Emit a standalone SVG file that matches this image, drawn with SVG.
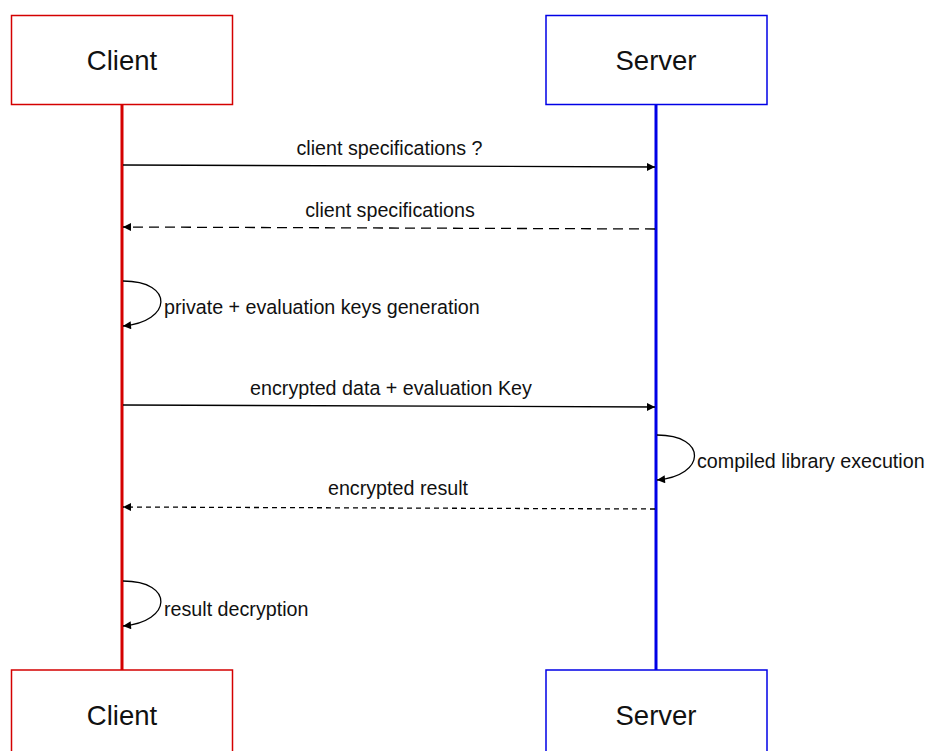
<svg xmlns="http://www.w3.org/2000/svg" width="927" height="751" viewBox="0 0 927 751">
  <style>
    .lbl { font-family: "Liberation Sans", Arial, sans-serif; font-size: 19.7px; fill: #111; }
    .title { font-family: "Liberation Sans", Arial, sans-serif; font-size: 27.5px; fill: #111; text-anchor: middle; }
    .msg { fill: none; stroke: #000; stroke-width: 1.3; }
    .dash1 { stroke-dasharray: 10 6; }
    .dash2 { stroke-dasharray: 5 4; }
  </style>
  <defs>
    <marker id="arrow" viewBox="0 0 10 10" refX="10" refY="5" markerWidth="10" markerHeight="8" markerUnits="userSpaceOnUse" orient="auto">
      <path d="M0,0 L10,5 L0,10 z" fill="#000"/>
    </marker>
  </defs>
  <rect width="927" height="751" fill="#fff"/>

  <!-- lifelines -->
  <g id="lifelines">
    <line x1="122" y1="104" x2="122" y2="670" stroke="#d40000" stroke-width="3"/>
    <line x1="656" y1="104" x2="656" y2="670" stroke="#0000e6" stroke-width="3"/>
  </g>

  <g id="client-top">
    <rect x="11.5" y="15.5" width="221" height="89" fill="#fff" stroke="#d40000" stroke-width="1.5"/>
    <text class="title" x="122" y="70">Client</text>
  </g>
  <g id="server-top">
    <rect x="546" y="15.5" width="221" height="89" fill="#fff" stroke="#0000e6" stroke-width="1.5"/>
    <text class="title" x="656" y="70">Server</text>
  </g>
  <g id="client-bottom">
    <rect x="11.5" y="670" width="221" height="89" fill="#fff" stroke="#d40000" stroke-width="1.5"/>
    <text class="title" x="122" y="725">Client</text>
  </g>
  <g id="server-bottom">
    <rect x="546" y="670" width="221" height="89" fill="#fff" stroke="#0000e6" stroke-width="1.5"/>
    <text class="title" x="656" y="725">Server</text>
  </g>

  <!-- messages -->
  <g id="connectors">
    <line class="msg" x1="123" y1="165" x2="655" y2="167" marker-end="url(#arrow)"/>
    <line class="msg dash1" x1="655" y1="229" x2="123" y2="227" marker-end="url(#arrow)"/>
    <path class="msg" d="M123,281 C175,281 172,322 123,326" marker-end="url(#arrow)"/>
    <line class="msg" x1="123" y1="405" x2="655" y2="407" marker-end="url(#arrow)"/>
    <path class="msg" d="M657,435 C708,435 706,476 657,480" marker-end="url(#arrow)"/>
    <line class="msg dash2" x1="655" y1="509" x2="123" y2="507" marker-end="url(#arrow)"/>
    <path class="msg" d="M123,581 C175,581 172,622 123,626" marker-end="url(#arrow)"/>
  </g>

  <g id="labels">
    <text class="lbl" x="389.5" y="155" text-anchor="middle">client specifications ?</text>
    <text class="lbl" x="390" y="217" text-anchor="middle">client specifications</text>
    <text class="lbl" x="164" y="314">private + evaluation keys generation</text>
    <text class="lbl" x="391" y="395" text-anchor="middle">encrypted data + evaluation Key</text>
    <text class="lbl" x="697" y="468">compiled library execution</text>
    <text class="lbl" x="398" y="495" text-anchor="middle">encrypted result</text>
    <text class="lbl" x="164" y="616">result decryption</text>
  </g>
</svg>
